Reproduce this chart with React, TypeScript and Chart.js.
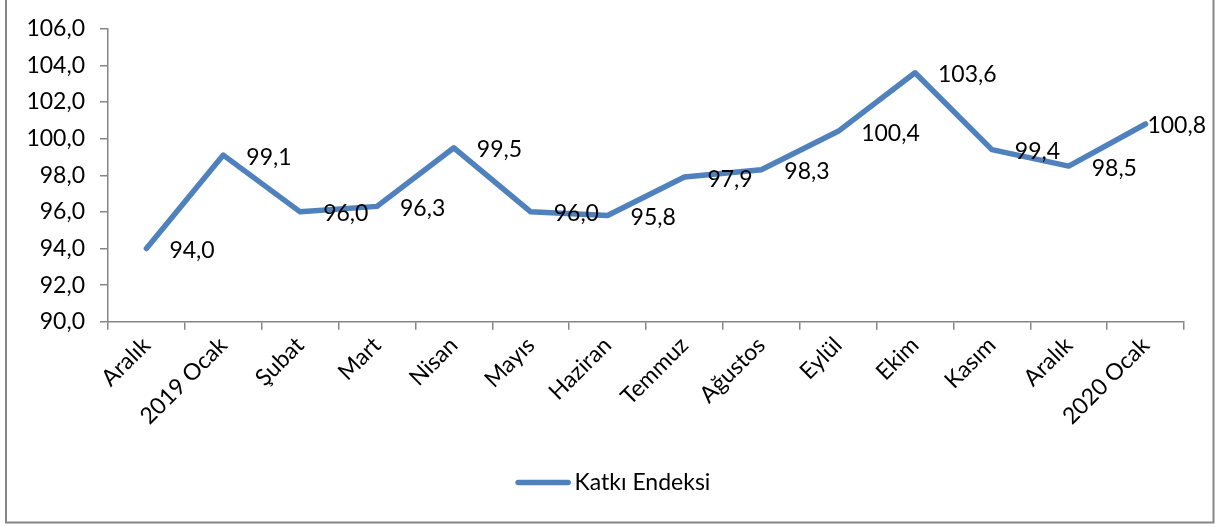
import React, { useEffect, useRef } from 'react';
import { Chart, registerables } from 'chart.js';

Chart.register(...registerables);

const categories = ['Aralık', '2019 Ocak', 'Şubat', 'Mart', 'Nisan', 'Mayıs', 'Haziran', 'Temmuz', 'Ağustos', 'Eylül', 'Ekim', 'Kasım', 'Aralık', '2020 Ocak'];
const katkiEndeksi = [94.0, 99.1, 96.0, 96.3, 99.5, 96.0, 95.8, 97.9, 98.3, 100.4, 103.6, 99.4, 98.5, 100.8];
const yMin = 90;
const yMax = 106;
const yStep = 2;
const seriesName = 'Katkı Endeksi';

const FONT = 'Lato, "Open Sans", sans-serif';
const FONT_SIZE = 23;
const LINE_COLOR = '#4F81BD';
const AXIS_COLOR = '#868686';
const fmt = (v: number) => Number(v).toFixed(1).replace('.', ',');

const decorPlugin = {
  id: 'decor',
  afterDatasetsDraw(chart: any) {
    const ctx = chart.ctx as CanvasRenderingContext2D;
    const meta = chart.getDatasetMeta(0);
    ctx.save();
    ctx.font = `${FONT_SIZE}px ${FONT}`;
    ctx.fillStyle = '#000';
    ctx.textBaseline = 'middle';
    ctx.textAlign = 'left';
    meta.data.forEach((pt: any, i: number) => {
      const text = fmt(katkiEndeksi[i]);
      const w = ctx.measureText(text).width;
      let x = pt.x + 23;
      if (x + w > 1206) x = 1206 - w;
      ctx.fillText(text, x, pt.y + 2);
    });
    // legend
    const tw = ctx.measureText(seriesName).width;
    const total = 55 + 4 + tw;
    const lx = 613 - total / 2;
    const ly = 482.5;
    ctx.strokeStyle = LINE_COLOR;
    ctx.lineWidth = 5.5;
    ctx.lineCap = 'round';
    ctx.beginPath();
    ctx.moveTo(lx + 2.5, ly);
    ctx.lineTo(lx + 52.5, ly);
    ctx.stroke();
    ctx.fillText(seriesName, lx + 59, ly);
    // outer border
    ctx.strokeStyle = AXIS_COLOR;
    ctx.lineWidth = 2;
    ctx.lineCap = 'butt';
    ctx.beginPath();
    ctx.moveTo(6, -2);
    ctx.lineTo(6, 522.5);
    ctx.lineTo(1213.5, 522.5);
    ctx.lineTo(1213.5, -2);
    ctx.stroke();
    ctx.restore();
  },
};

export default function App() {
  const ref = useRef<HTMLCanvasElement | null>(null);
  useEffect(() => {
    if (!ref.current) return;
    const chart = new Chart(ref.current, {
      type: 'line',
      data: {
        labels: categories,
        datasets: [
          {
            label: seriesName,
            data: katkiEndeksi,
            borderColor: LINE_COLOR,
            backgroundColor: LINE_COLOR,
            borderWidth: 5.5,
            pointRadius: 0,
            pointHoverRadius: 0,
            tension: 0,
            borderCapStyle: 'round',
            borderJoinStyle: 'round',
            clip: false as any,
          },
        ],
      },
      options: {
        animation: false,
        responsive: true,
        maintainAspectRatio: false,
        layout: { padding: { top: 28, right: 40, left: 0, bottom: 0 } },
        plugins: { legend: { display: false }, tooltip: { enabled: false } },
        scales: {
          x: {
            offset: true,
            grid: { offset: true, drawOnChartArea: false, drawTicks: true, tickLength: 8, color: AXIS_COLOR, lineWidth: 1.5 },
            border: { display: true, color: AXIS_COLOR, width: 1.5 },
            ticks: { maxRotation: 45, minRotation: 45, autoSkip: false, font: { family: FONT, size: FONT_SIZE }, color: '#000', padding: 2 },
            afterFit: (s: any) => { s.height = 527 - 321.7; },
          },
          y: {
            min: yMin,
            max: yMax,
            grid: { drawOnChartArea: false, drawTicks: true, tickLength: 8, color: AXIS_COLOR, lineWidth: 1.5 },
            border: { display: true, color: AXIS_COLOR, width: 1.5 },
            ticks: { stepSize: yStep, callback: (v: any) => fmt(v), font: { family: FONT, size: FONT_SIZE }, color: '#000', padding: 15 },
            afterFit: (s: any) => { s.width = 108; },
          },
        },
      },
      plugins: [decorPlugin],
    });
    return () => chart.destroy();
  }, []);
  return (
    <div style={{ position: 'absolute', left: 0, top: 0, width: 1224, height: 527, background: '#fff' }}>
      <canvas ref={ref} />
    </div>
  );
}
